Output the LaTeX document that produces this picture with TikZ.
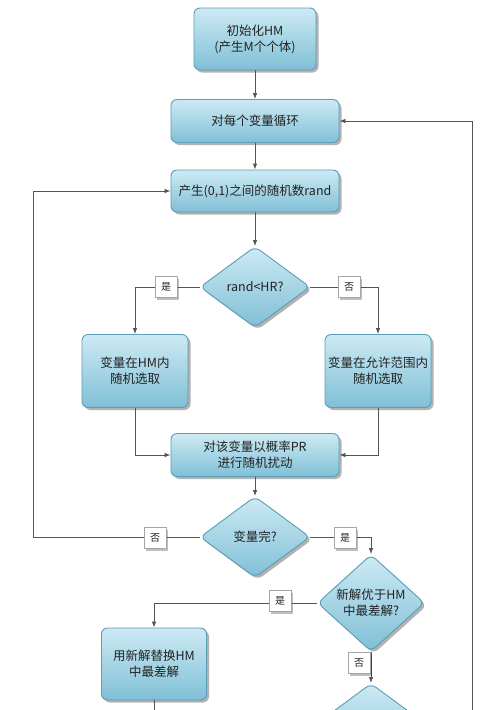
\documentclass[tikz,border=0pt]{standalone}
\usepackage{fontspec}
\setmainfont{Noto Sans CJK SC}
\usetikzlibrary{shapes.geometric,arrows.meta,shadows}
\definecolor{boxtop}{HTML}{CDEAF4}
\definecolor{boxbot}{HTML}{80BFD6}
\definecolor{boxline}{HTML}{5B9DB5}
\definecolor{conn}{HTML}{555555}
\definecolor{txt}{HTML}{222222}
\begin{document}
\begin{tikzpicture}[x=1pt,y=-1pt,
  every node/.style={text=txt},
  procbox/.style={draw=boxline, line width=0.9pt, rounded corners=6pt, top color=boxtop, bottom color=boxbot,
    drop shadow={shadow xshift=2.5pt, shadow yshift=-2.5pt, opacity=0.3, fill=black},
    font=\fontsize{12.5}{16}\selectfont, align=center, inner sep=2pt},
  decbox/.style={shape=diamond, draw=boxline, line width=0.9pt, rounded corners=6pt, top color=boxtop, bottom color=boxbot,
    drop shadow={shadow xshift=2.5pt, shadow yshift=-2.5pt, opacity=0.3, fill=black},
    font=\fontsize{12.5}{16}\selectfont, align=center, inner sep=0pt, minimum width=110pt, minimum height=81pt},
  lbl/.style={draw=gray!70, fill=white, line width=0.5pt, minimum width=22pt, minimum height=21pt, inner sep=0pt,
    font=\fontsize{10}{11}\selectfont, drop shadow={shadow xshift=2pt, shadow yshift=-2pt, opacity=0.25, fill=black}},
  conn/.style={draw=conn, line width=0.8pt},
  arr/.style={conn, -{Latex[length=6pt,width=4.5pt]}}
]
\clip (0,0) rectangle (500,710);
\fill[white] (0,0) rectangle (500,710);

\node[procbox, minimum width=122pt, minimum height=62pt] (b1) at (255,39) {初始化HM\\(产生M个个体)};
\node[procbox, minimum width=168pt, minimum height=43pt] (b2) at (255,121) {对每个变量循环};
\node[procbox, minimum width=168pt, minimum height=42pt] (b3) at (255,191) {产生(0,1)之间的随机数rand};
\node[decbox] (d1) at (255,287) {rand<HR?};
\node[procbox, minimum width=106pt, minimum height=73pt] (b4) at (135,371) {变量在HM内\\随机选取};
\node[procbox, minimum width=106pt, minimum height=73pt] (b5) at (378,371) {变量在允许范围内\\随机选取};
\node[procbox, minimum width=168pt, minimum height=43pt] (b6) at (255,455) {对该变量以概率PR\\进行随机扰动};
\node[decbox] (d2) at (255,537) {变量完?};
\node[decbox, minimum width=107pt] (d3) at (371,603) {新解优于HM\\中最差解?};
\node[procbox, minimum width=105pt, minimum height=72pt] (b7) at (154,664) {用新解替换HM\\中最差解};
\node[decbox] (d4) at (371,724) {};

\coordinate (lp) at (33,537);
\coordinate (b7end) at (154,712);
\coordinate (rr) at (472,712);

\draw[arr] (b1.south) -- (b2.north);
\draw[arr] (b2.south) -- (b3.north);
\draw[arr] (b3.south) -- (d1.north);
\draw[arr] (d1.west) -| (b4.north);
\draw[arr] (d1.east) -| (b5.north);
\draw[arr] (b4.south) |- (b6.west);
\draw[arr] (b5.south) |- (b6.east);
\draw[arr] (b6.south) -- (d2.north);
\draw[conn] (d2.west) -- (lp);
\draw[arr] (lp) |- (b3.west);
\draw[arr] (d2.east) -| (d3.north);
\draw[arr] (d3.west) -| (b7.north);
\draw[arr] (d3.south) -- (d4.north);
\draw[conn] (b7.south) -- (b7end);
\draw[arr] (rr) |- (b2.east);

\node[lbl] (l1) at (166,287) {是};
\node[lbl] (l2) at (349,287) {否};
\node[lbl] (l3) at (155,538) {否};
\node[lbl] (l4) at (345,538) {是};
\node[lbl] (l5) at (280,601) {是};
\node[lbl] (l6) at (359,663) {否};
\end{tikzpicture}
\end{document}
